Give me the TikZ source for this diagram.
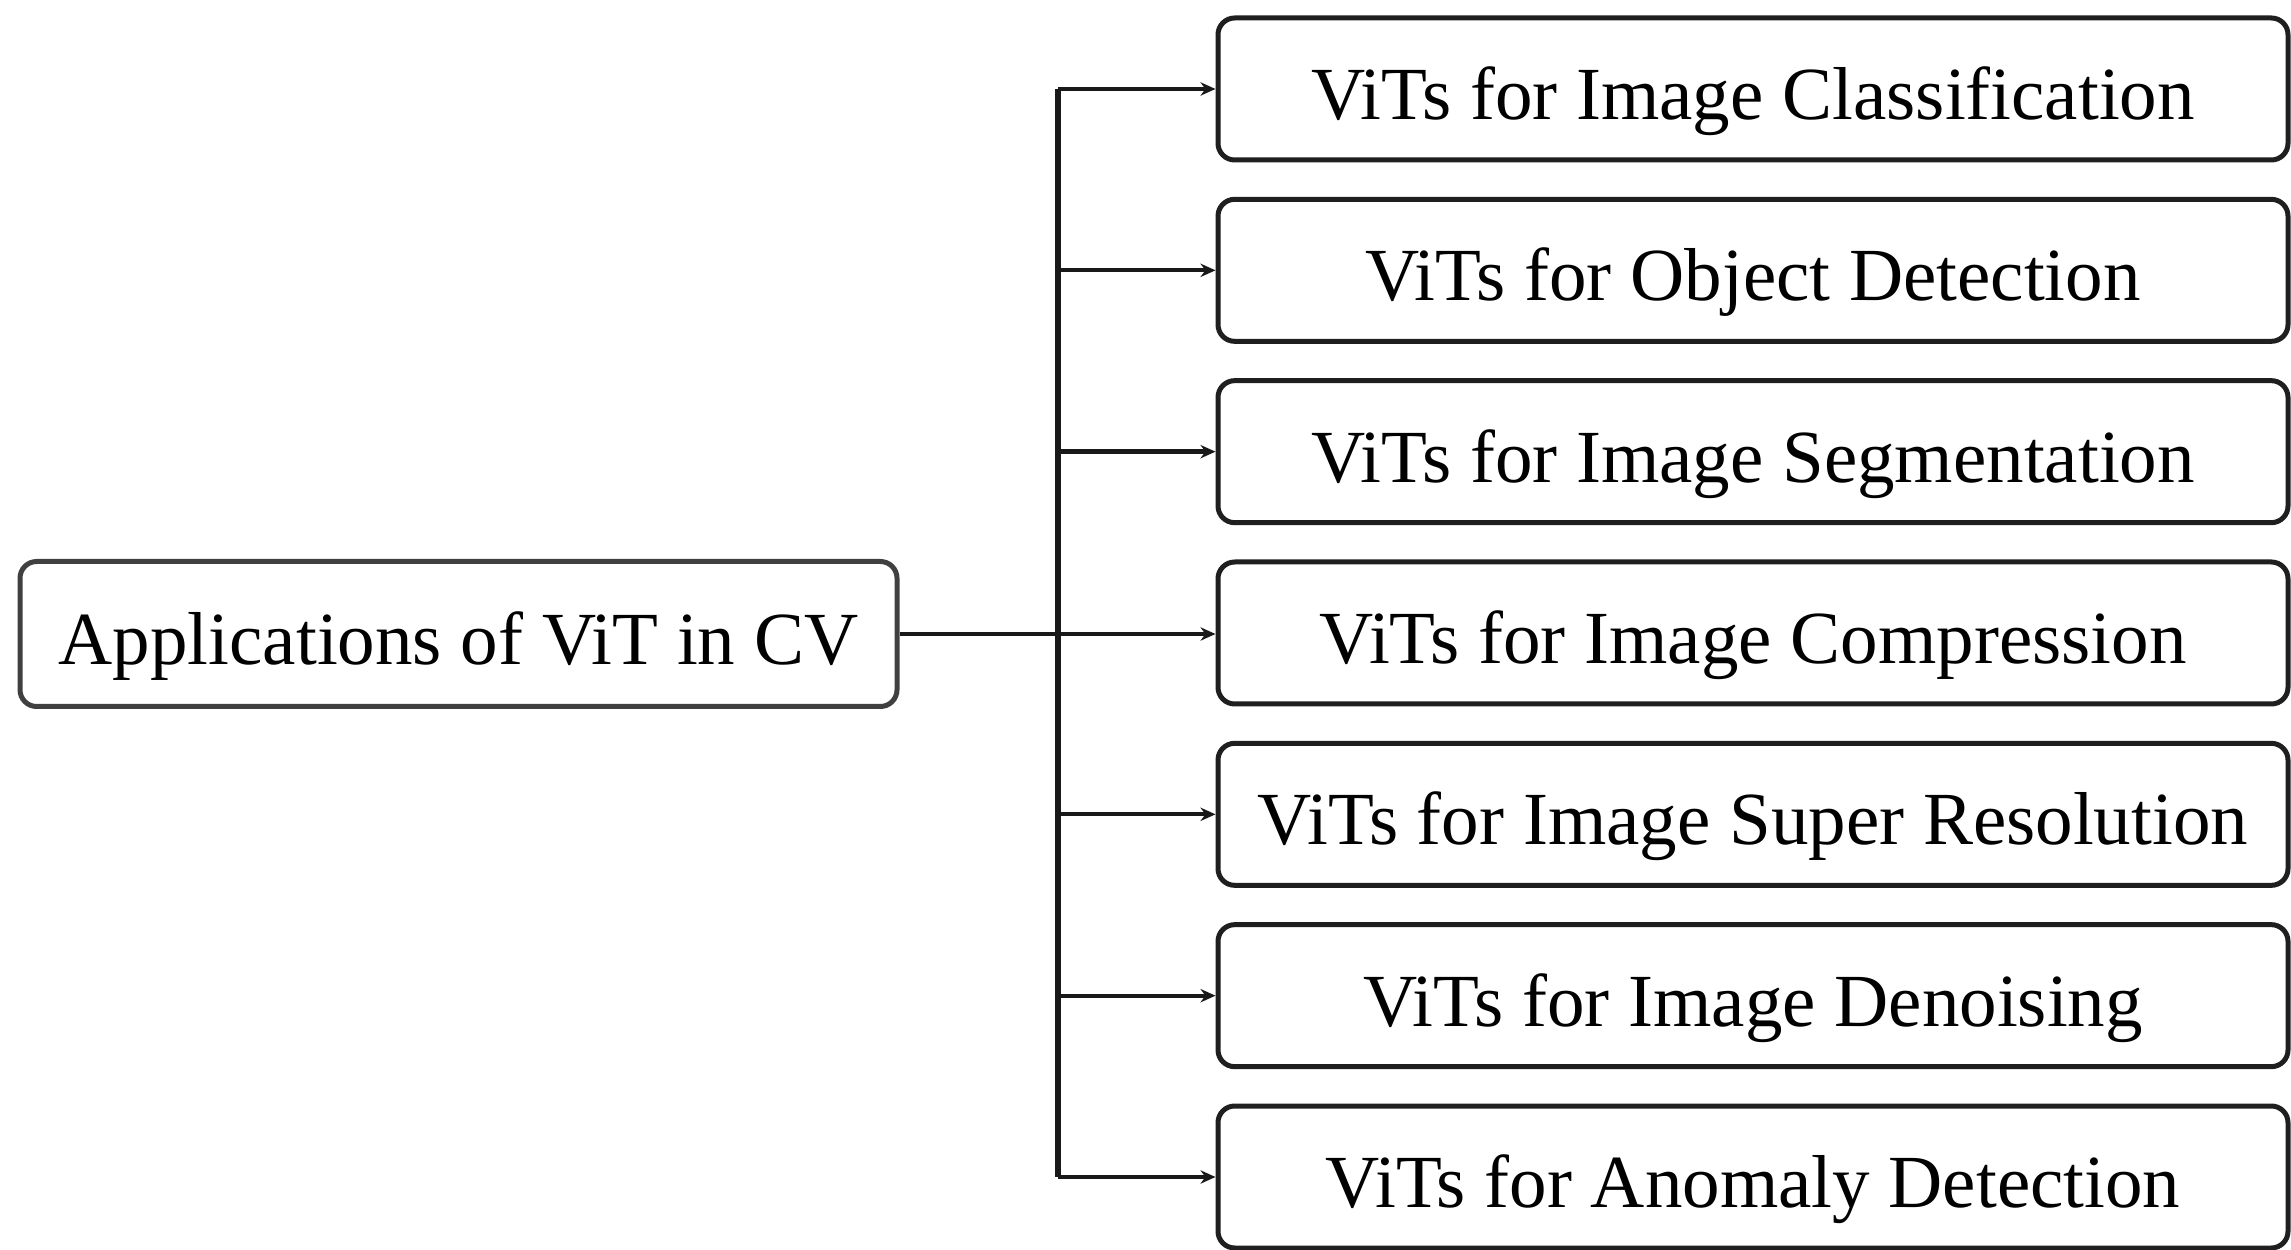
\documentclass[tikz,border=0pt]{standalone}
\usepackage{fontspec}
\setmainfont{Liberation Serif}
\usetikzlibrary{arrows.meta}
\begin{document}
\begin{tikzpicture}[x=0.3pt,y=-0.3pt,
  box/.style={draw=black!88,line width=1.5pt,rounded corners=5pt,
    inner sep=0pt,text height=18.4pt,text depth=0pt,
    font=\fontsize{22.5}{27}\selectfont},
  leftbox/.style={box,draw=black!75,minimum width=877*0.3pt,minimum height=145*0.3pt},
  appbox/.style={box,minimum width=1070*0.3pt,minimum height=142*0.3pt},
  link/.style={line width=1.3pt,black!90},
  arr/.style={link,-{Stealth[length=4.5pt,width=4pt]}}]
\useasboundingbox (0,0) rectangle (2291,1250);
% root node
\node[leftbox] (root) at (458.5,634) {Applications of ViT in CV};
% application nodes
\node[appbox] (r1) at (1753,89)      {ViTs for Image Classification};
\node[appbox] (r2) at (1753,270.33)  {ViTs for Object Detection};
\node[appbox] (r3) at (1753,451.67)  {ViTs for Image Segmentation};
\node[appbox] (r4) at (1753,633)     {ViTs for Image Compression};
\node[appbox] (r5) at (1753,814.33)  {ViTs for Image Super Resolution};
\node[appbox] (r6) at (1753,995.67)  {ViTs for Image Denoising};
\node[appbox] (r7) at (1753,1177)    {ViTs for Anomaly Detection};
% branch points on the trunk
\foreach \i in {1,...,7}{
  \coordinate (j\i) at (1058,0 |- r\i.west);
}
% trunk and branches
\draw[link,line width=1.6pt] (j1) -- (j7);
\draw[arr] (root.east) -- (root.east -| r4.west);
\foreach \i in {1,2,3,5,6,7}{
  \draw[arr] (j\i) -- (r\i.west);
}
\end{tikzpicture}
\end{document}
